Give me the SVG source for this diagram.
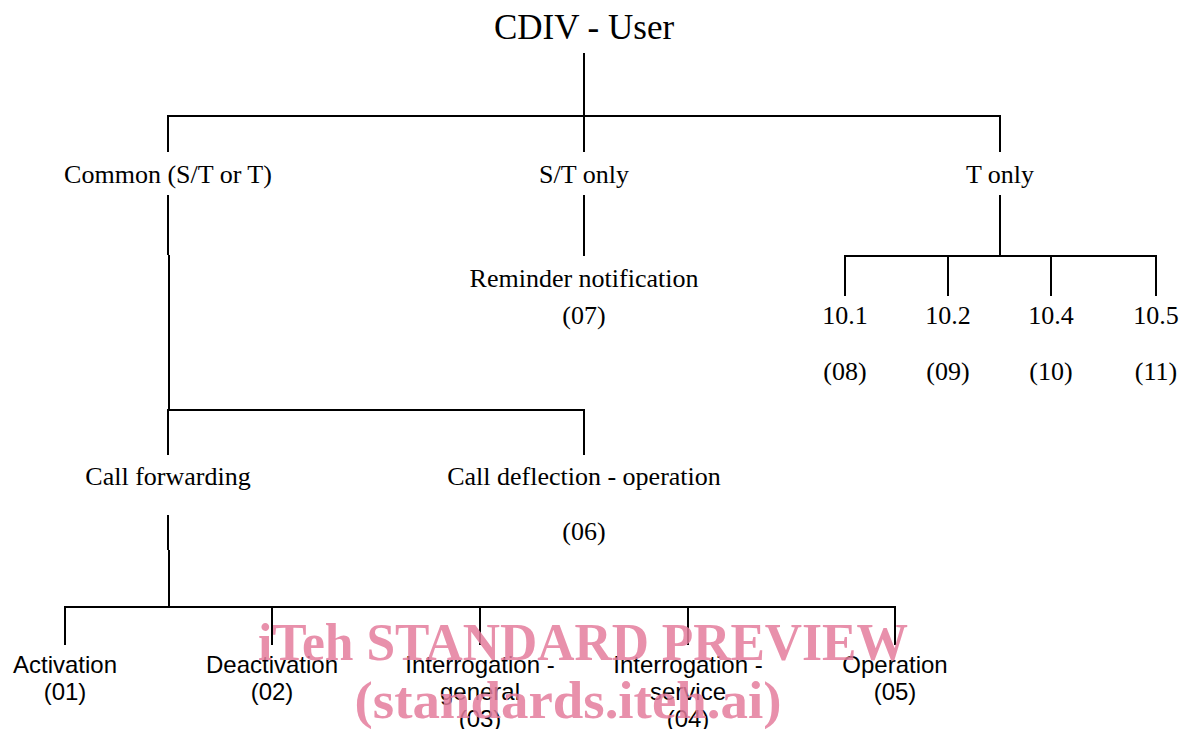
<svg xmlns="http://www.w3.org/2000/svg" width="1181" height="729" viewBox="0 0 1181 729">
<style>
.t{font-family:"Liberation Serif","Times New Roman",serif;font-size:26px;fill:#000;text-anchor:middle}
.a{font-family:"Liberation Sans",Arial,sans-serif;font-size:24px;fill:#000;text-anchor:middle}
.c line,.c polyline{stroke:#000;stroke-width:2;fill:none}
.w{font-family:"Liberation Serif","Times New Roman",serif;font-weight:bold;font-size:52px;fill:#e47c9c;fill-opacity:0.85;text-anchor:middle}
</style>
<rect width="1181" height="729" fill="#fff"/>
<g class="c" id="connectors">
<line x1="584" y1="53" x2="584" y2="152"/>
<polyline points="168,152 168,116 1000,116 1000,152"/>
<line x1="584" y1="195" x2="584" y2="256"/>
<line x1="168" y1="195" x2="168" y2="255"/>
<line x1="169" y1="255" x2="169" y2="410"/>
<polyline points="168,455 168,410 584,410 584,455"/>
<line x1="1000" y1="195" x2="1000" y2="256"/>
<polyline points="845,296 845,256 1156,256 1156,296"/>
<line x1="948" y1="256" x2="948" y2="296"/>
<line x1="1051" y1="256" x2="1051" y2="296"/>
<line x1="168" y1="515" x2="168" y2="550"/>
<line x1="169" y1="550" x2="169" y2="607"/>
<polyline points="65,645 65,607 895,607 895,645"/>
<line x1="272" y1="607" x2="272" y2="645"/>
<line x1="480" y1="607" x2="480" y2="645"/>
<line x1="688" y1="607" x2="688" y2="645"/>
</g>
<g id="root"><text class="t" x="584" y="39" style="font-size:35px">CDIV - User</text></g>
<g id="common"><text class="t" x="168" y="183">Common (S/T or T)</text></g>
<g id="st-only"><text class="t" x="584" y="183">S/T only</text></g>
<g id="t-only"><text class="t" x="1000" y="183">T only</text></g>
<g id="reminder"><text class="t" x="584" y="287">Reminder notification</text><text class="t" x="584" y="324">(07)</text></g>
<g id="n101"><text class="t" x="845" y="324">10.1</text><text class="t" x="845" y="380">(08)</text></g>
<g id="n102"><text class="t" x="948" y="324">10.2</text><text class="t" x="948" y="380">(09)</text></g>
<g id="n104"><text class="t" x="1051" y="324">10.4</text><text class="t" x="1051" y="380">(10)</text></g>
<g id="n105"><text class="t" x="1156" y="324">10.5</text><text class="t" x="1156" y="380">(11)</text></g>
<g id="call-forwarding"><text class="t" x="168" y="485">Call forwarding</text></g>
<g id="call-deflection"><text class="t" x="584" y="485">Call deflection - operation</text><text class="t" x="584" y="540">(06)</text></g>
<g id="activation"><text class="a" x="65" y="673">Activation</text><text class="a" x="65" y="700">(01)</text></g>
<g id="deactivation"><text class="a" x="272" y="673">Deactivation</text><text class="a" x="272" y="700">(02)</text></g>
<g id="interrogation-general"><text class="a" x="480" y="673">Interrogation -</text><text class="a" x="480" y="700">general</text><text class="a" x="480" y="727">(03)</text></g>
<g id="interrogation-service"><text class="a" x="688" y="673">Interrogation -</text><text class="a" x="688" y="700">service</text><text class="a" x="688" y="727">(04)</text></g>
<g id="operation"><text class="a" x="895" y="673">Operation</text><text class="a" x="895" y="700">(05)</text></g>
<g id="watermark"><text class="w" x="583" y="660" textLength="650" lengthAdjust="spacingAndGlyphs">iTeh STANDARD PREVIEW</text><text class="w" x="568" y="718" textLength="427" lengthAdjust="spacingAndGlyphs">(standards.iteh.ai)</text></g>
</svg>
